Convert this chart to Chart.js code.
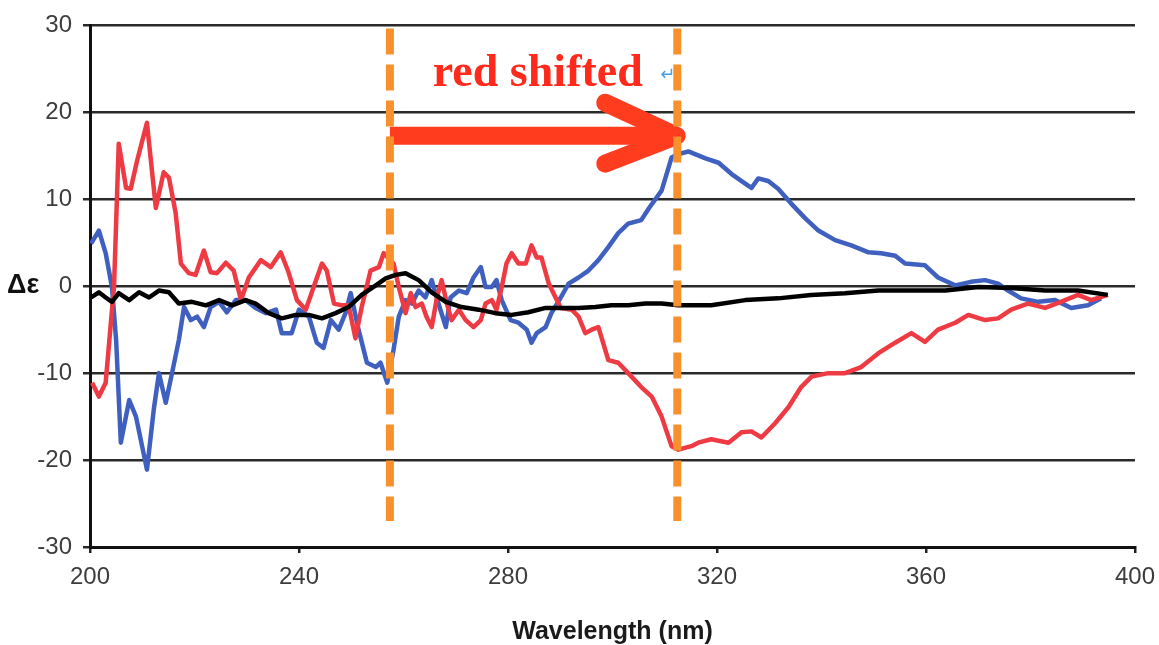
<!DOCTYPE html>
<html>
<head>
<meta charset="utf-8">
<title>CD spectra – red shifted</title>
<script src="https://cdn.jsdelivr.net/npm/chart.js@4.4.1/dist/chart.umd.min.js"></script>
<style>
  html, body { margin: 0; padding: 0; background: #fff; }
  #wrap { width: 1159px; height: 645px; }
</style>
</head>
<body>
<div id="wrap"><canvas id="cd" width="1159" height="645"></canvas></div>
<script>
// Wavelength (nm) and Δε, one pair of arrays per trace
const redNm = [200.4, 201.7, 203.0, 204.6, 205.5, 206.9, 207.8, 209.0, 210.9, 212.6, 214.1, 215.1, 216.4, 217.4, 218.9, 220.2, 221.8, 223.1, 224.3, 226.0, 227.5, 228.9, 230.4, 232.7, 234.6, 236.5, 238.0, 239.6, 241.3, 242.8, 244.4, 245.3, 246.7, 248.2, 249.5, 250.8, 252.0, 253.7, 255.3, 256.2, 258.1, 259.1, 260.4, 261.4, 262.3, 263.5, 264.4, 265.4, 266.4, 267.3, 268.3, 269.2, 270.6, 271.9, 273.4, 274.8, 275.7, 276.9, 277.8, 278.8, 279.7, 280.7, 282.0, 283.4, 284.5, 285.5, 286.4, 287.8, 289.1, 290.1, 292.2, 293.5, 294.8, 296.0, 297.3, 299.2, 301.1, 303.0, 305.5, 307.5, 309.4, 311.3, 312.6, 315.1, 316.4, 318.9, 322.2, 324.7, 326.6, 328.5, 331.2, 333.7, 336.1, 338.1, 341.3, 344.5, 347.6, 350.9, 354.1, 357.2, 359.8, 362.3, 365.6, 368.1, 371.3, 373.8, 376.3, 379.5, 382.8, 385.8, 389.1, 391.6, 394.8];
const redDe = [-11.1, -12.7, -11.1, 0.0, 16.4, 11.3, 11.2, 14.4, 18.8, 9.0, 13.1, 12.5, 8.4, 2.6, 1.5, 1.3, 4.1, 1.6, 1.5, 2.7, 1.8, -1.6, 1.0, 3.0, 2.2, 3.9, 1.6, -1.6, -2.7, -0.1, 2.6, 1.8, -2.0, -2.2, -2.2, -6.0, -2.4, 1.8, 2.2, 3.8, 2.6, -0.1, -3.1, -0.8, -2.4, -2.0, -3.5, -4.7, -1.3, 0.7, -2.0, -3.9, -2.7, -3.9, -4.7, -3.9, -2.0, -1.6, -2.7, -0.1, 2.6, 3.8, 2.6, 2.6, 4.7, 3.3, 3.3, 0.3, -1.3, -2.5, -2.7, -3.5, -5.4, -5.0, -4.7, -8.5, -8.8, -10.0, -11.6, -12.7, -15.0, -18.4, -18.8, -18.4, -18.0, -17.6, -18.0, -16.8, -16.7, -17.4, -15.7, -13.9, -11.6, -10.4, -10.0, -10.0, -9.3, -7.7, -6.5, -5.4, -6.4, -5.0, -4.2, -3.3, -3.9, -3.7, -2.7, -2.0, -2.5, -1.8, -1.0, -1.6, -1.0];

const blueNm = [200.2, 201.7, 203.0, 204.2, 205.0, 205.9, 207.5, 208.8, 210.9, 212.2, 213.2, 214.5, 215.7, 217.0, 218.0, 219.3, 220.5, 221.8, 223.1, 224.7, 226.2, 227.9, 229.8, 231.7, 233.7, 235.6, 236.7, 238.6, 240.0, 241.9, 243.4, 244.7, 246.1, 247.6, 248.9, 249.9, 251.4, 253.0, 254.7, 255.6, 256.9, 258.1, 259.1, 260.4, 261.6, 262.9, 264.2, 265.4, 266.7, 268.1, 269.0, 270.6, 272.1, 273.4, 274.8, 275.7, 276.9, 277.8, 278.8, 280.5, 282.0, 283.6, 284.5, 285.5, 287.2, 288.3, 290.1, 291.6, 293.5, 295.4, 297.3, 299.2, 301.1, 303.0, 305.5, 307.0, 309.4, 311.3, 312.6, 314.5, 317.8, 320.3, 322.8, 325.4, 326.6, 327.9, 329.8, 331.7, 334.2, 336.9, 339.4, 342.6, 345.7, 349.0, 351.4, 354.1, 356.0, 359.8, 362.3, 365.6, 368.6, 371.3, 373.8, 375.7, 378.2, 381.5, 384.7, 387.8, 391.0, 393.5];
const blueDe = [4.9, 6.4, 3.8, -0.1, -6.2, -18.0, -13.1, -15.0, -21.1, -14.2, -10.0, -13.4, -10.0, -6.2, -2.4, -3.9, -3.5, -4.7, -2.4, -1.8, -3.0, -1.6, -1.6, -2.5, -3.1, -2.7, -5.4, -5.4, -2.7, -3.5, -6.5, -7.1, -3.9, -5.0, -3.1, -0.8, -5.0, -8.8, -9.3, -8.8, -11.1, -7.3, -3.5, -1.6, -2.0, -0.5, -1.3, 0.7, -2.0, -4.7, -1.3, -0.5, -0.8, 1.0, 2.2, -0.1, -0.1, 0.7, -1.6, -3.9, -4.2, -5.0, -6.5, -5.4, -4.7, -3.1, -1.3, 0.3, 1.0, 1.8, 3.0, 4.5, 6.1, 7.2, 7.6, 9.0, 11.0, 14.8, 15.2, 15.5, 14.7, 14.2, 12.9, 11.8, 11.3, 12.4, 12.1, 11.2, 9.5, 7.8, 6.4, 5.3, 4.7, 3.9, 3.8, 3.5, 2.6, 2.4, 1.0, 0.1, 0.5, 0.7, 0.3, -0.5, -1.4, -1.8, -1.6, -2.5, -2.2, -1.4];

const blackNm = [200.2, 201.7, 203.0, 204.2, 205.5, 207.5, 209.4, 211.3, 213.2, 215.1, 217.0, 219.5, 222.2, 224.7, 227.2, 229.8, 231.7, 234.2, 236.7, 239.4, 241.9, 244.4, 247.0, 249.5, 252.0, 254.7, 256.6, 258.5, 260.4, 262.9, 265.4, 268.1, 271.1, 274.4, 277.6, 280.7, 283.9, 287.2, 290.2, 293.5, 296.7, 299.8, 303.0, 306.3, 309.4, 312.6, 318.9, 325.4, 331.7, 338.0, 344.5, 350.9, 357.2, 363.7, 370.0, 376.3, 382.8, 389.1, 394.8];
const blackDe = [-1.3, -0.7, -1.3, -1.8, -0.8, -1.6, -0.7, -1.3, -0.5, -0.7, -2.0, -1.8, -2.2, -1.6, -2.2, -1.6, -2.0, -3.1, -3.7, -3.3, -3.3, -3.7, -3.1, -2.4, -1.0, 0.1, 0.9, 1.3, 1.5, 0.7, -0.7, -1.8, -2.4, -2.7, -3.1, -3.3, -3.0, -2.5, -2.5, -2.5, -2.4, -2.2, -2.2, -2.0, -2.0, -2.2, -2.2, -1.6, -1.4, -1.0, -0.8, -0.5, -0.5, -0.5, -0.1, -0.2, -0.5, -0.5, -1.0];

// annotation: the two band maxima and the arrow between them
const shiftNm = [257.4, 312.4];
const markerDe = [29.65, -27.0];
const arrowShaftNm = [257.4, 310.5];
const arrowShaftDe = [17.3, 17.3];
const arrowHeadNm = [298.6, 312.3, 298.6];
const arrowHeadDe = [21.1, 17.3, 14.1];
const shiftLabel = 'red shifted';

// axes
const xTicks = [200, 240, 280, 320, 360, 400];
const yTicks = [-30, -20, -10, 0, 10, 20, 30];

const pts = (xs, ys) => xs.map((v, i) => ({ x: v, y: ys[i] }));

const annotText = {
  id: 'annotText',
  afterDatasetsDraw(chart) {
    const { ctx, scales: { x, y } } = chart;
    ctx.save();
    // "red shifted"
    ctx.font = 'bold 46px "Liberation Serif", "Times New Roman", serif';
    ctx.fillStyle = '#FF2A1C';
    ctx.textAlign = 'center';
    ctx.textBaseline = 'alphabetic';
    ctx.fillText(shiftLabel, x.getPixelForValue(285.7), y.getPixelForValue(23.0));
    // stray return mark from the original slide
    ctx.font = '18px "DejaVu Sans", sans-serif';
    ctx.fillStyle = '#4A9FE0';
    ctx.textBaseline = 'middle';
    ctx.fillText('\u21B5', x.getPixelForValue(310.6), y.getPixelForValue(24.3));
    // y axis label, upright
    ctx.font = 'bold 27px "Liberation Sans", Arial, sans-serif';
    ctx.fillStyle = '#111';
    ctx.textAlign = 'left';
    ctx.fillText('\u0394\u03B5', 7, y.getPixelForValue(0) - 1);
    ctx.restore();
  }
};

const dashed = {
  borderColor: '#F8912C',
  borderWidth: 8,
  borderDash: [26, 10],
  borderCapStyle: 'butt',
  pointRadius: 0,
  tension: 0
};

new Chart(document.getElementById('cd'), {
  type: 'line',
  data: {
    datasets: [
      { ...dashed, data: pts([shiftNm[0], shiftNm[0]], markerDe) },
      { ...dashed, data: pts([shiftNm[1], shiftNm[1]], markerDe) },
      { data: pts(arrowShaftNm, arrowShaftDe), borderColor: '#FF3C1E', borderWidth: 18, borderCapStyle: 'butt', pointRadius: 0 },
      { data: pts(arrowHeadNm, arrowHeadDe), borderColor: '#FF3C1E', borderWidth: 18, borderCapStyle: 'round', borderJoinStyle: 'round', pointRadius: 0 },
      { data: pts(blackNm, blackDe), borderColor: '#000', borderWidth: 4.5, pointRadius: 0, borderJoinStyle: 'round' },
      { data: pts(redNm, redDe), borderColor: '#EE3A43', borderWidth: 4.5, pointRadius: 0, borderJoinStyle: 'round' },
      { data: pts(blueNm, blueDe), borderColor: '#3F60BE', borderWidth: 4.5, pointRadius: 0, borderJoinStyle: 'round' }
    ]
  },
  options: {
    responsive: false,
    animation: false,
    layout: { padding: { top: 24, right: 0, left: 0, bottom: 0 } },
    plugins: { legend: { display: false }, tooltip: { enabled: false } },
    scales: {
      x: {
        type: 'linear',
        min: 200,
        max: 400,
        afterFit: s => { s.height = 98; s.paddingLeft = 0; s.paddingRight = 24; },
        afterBuildTicks: s => { s.ticks = xTicks.map(v => ({ value: v })); },
        grid: { drawOnChartArea: false, drawTicks: true, tickLength: 6, color: '#222', lineWidth: 2.5 },
        border: { display: true, color: '#111', width: 3 },
        ticks: { padding: 10, color: '#3c3c3c', font: { family: '"Liberation Sans", Arial, sans-serif', size: 24 }, maxRotation: 0 },
        title: {
          display: true,
          text: 'Wavelength (nm)',
          color: '#1a1a1a',
          font: { family: '"Liberation Sans", Arial, sans-serif', size: 25, weight: 'bold', lineHeight: 1 },
          padding: { top: 0, bottom: 0 }
        }
      },
      y: {
        min: -30,
        max: 30,
        afterFit: s => { s.width = 90; },
        afterBuildTicks: s => { s.ticks = yTicks.map(v => ({ value: v })); },
        grid: { color: '#2a2a2a', lineWidth: 2.5, tickLength: 7 },
        border: { display: true, color: '#111', width: 3 },
        ticks: { padding: 11, color: '#3c3c3c', font: { family: '"Liberation Sans", Arial, sans-serif', size: 24 } }
      }
    }
  },
  plugins: [annotText]
});
</script>
</body>
</html>
